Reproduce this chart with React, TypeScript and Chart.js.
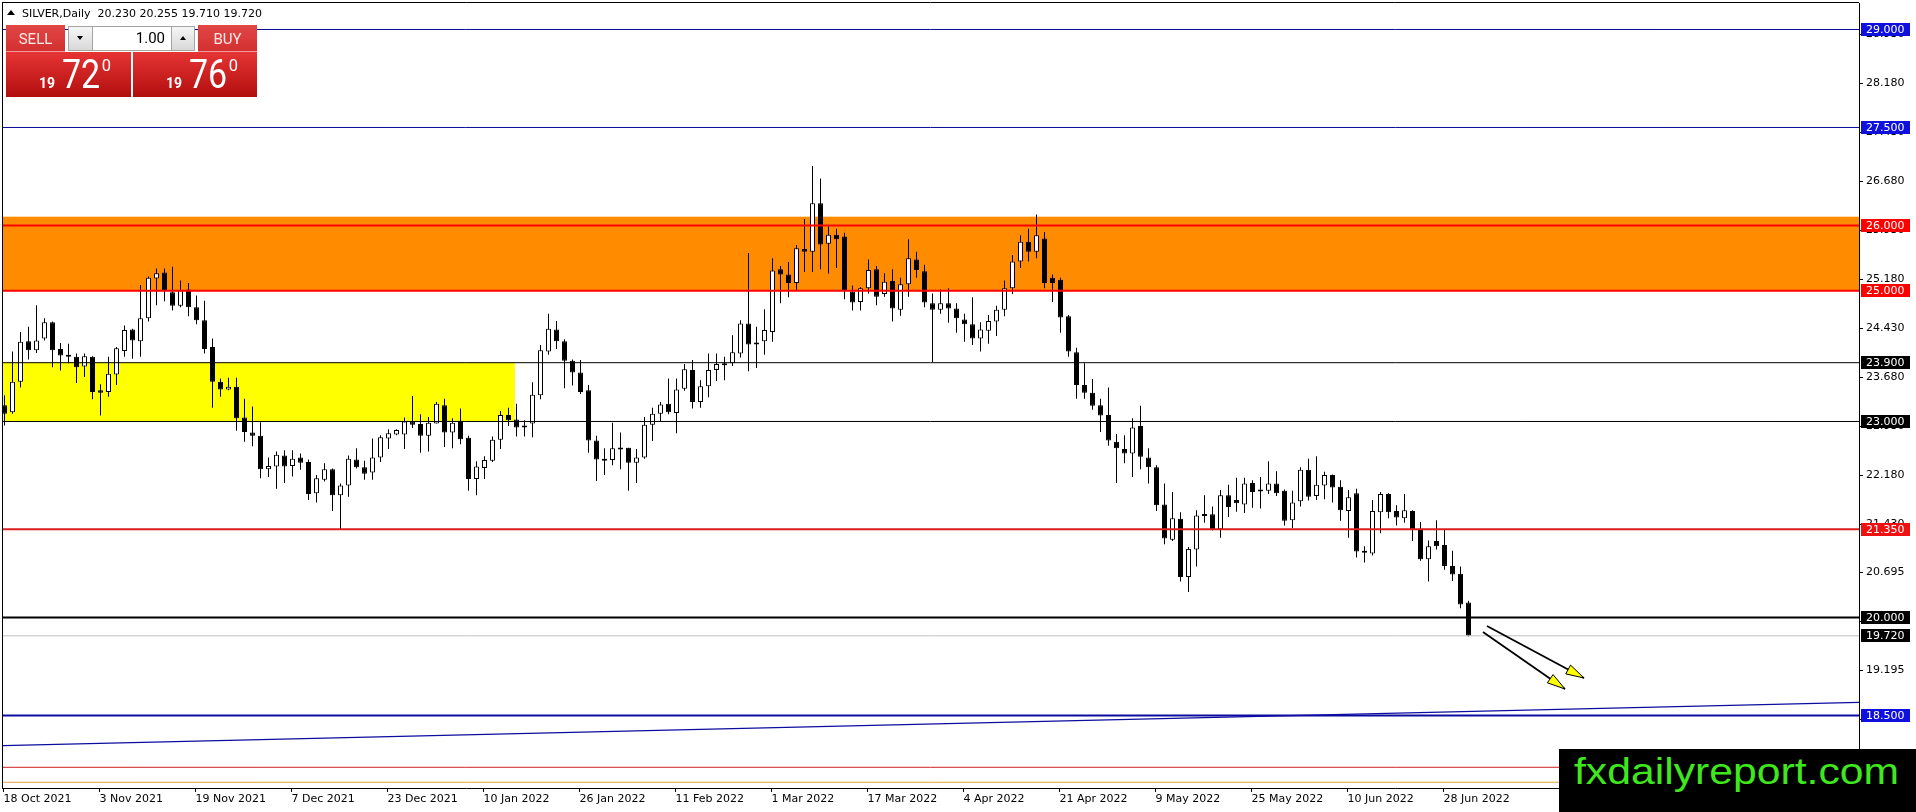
import React, { useEffect, useRef } from "react";
import { Chart, registerables } from "chart.js";

Chart.register(...registerables);

// ---------- data (daily SILVER candles, bar 0 = 18 Oct 2021, bar 183 = 1 Jul 2022) ----------
const OPEN = [
  23.25, 23.14, 23.61, 24.23, 24.09, 24.27, 24.52, 24.11, 24.02, 23.99,
  23.84, 23.99, 23.48, 23.45, 23.72, 24.08, 24.41, 24.23, 24.58, 25.19,
  25.28, 24.98, 24.77, 25.02, 24.75, 24.55, 24.14, 23.61, 23.49, 23.53,
  23.06, 22.83, 22.78, 22.27, 22.31, 22.48, 22.32, 22.45, 22.38, 21.9,
  22.11, 22.27, 21.87, 22.02, 22.42, 22.3, 22.22, 22.45, 22.74, 22.8,
  22.8, 23.0, 22.96, 22.78, 22.97, 23.25, 22.83, 23.01, 22.75, 22.12,
  22.29, 22.4, 22.72, 23.1, 23.03, 22.91, 22.97, 23.4, 24.07, 24.41,
  24.23, 23.93, 23.75, 23.48, 22.71, 22.42, 22.41, 22.59, 22.6, 22.37,
  22.45, 22.95, 23.12, 23.27, 23.13, 23.5, 23.79, 23.3, 23.54, 23.79,
  23.86, 23.89, 24.04, 24.5, 24.18, 24.23, 24.37, 25.33, 25.25, 25.12,
  25.64, 25.6, 26.34, 25.72, 25.86, 25.83, 24.99, 24.83, 25.04, 25.33,
  24.95, 25.15, 24.71, 25.1, 25.48, 25.3, 24.81, 24.71, 24.81, 24.73,
  24.56, 24.49, 24.27, 24.39, 24.53, 24.71, 25.04, 25.45, 25.75, 25.6,
  25.8, 25.2, 25.17, 24.61, 24.06, 23.56, 23.44, 23.25, 23.1, 22.69,
  22.58, 22.51, 22.93, 22.45, 22.3, 21.73, 21.19, 21.51, 20.62, 21.04,
  21.57, 21.58, 21.35, 21.87, 21.8, 21.73, 22.06, 21.95, 21.94, 22.05,
  21.94, 21.49, 21.78, 22.26, 21.86, 22.02, 22.18, 22.0, 21.63, 21.9,
  21.01, 20.98, 21.61, 21.89, 21.63, 21.52, 21.63, 21.36, 20.89, 21.17,
  21.11, 20.79, 20.67, 20.23,
];
const HIGH = [
  23.4, 24.07, 24.37, 24.45, 24.78, 24.58, 24.53, 24.2, 24.19, 24.04,
  24.04, 24.0, 23.57, 23.99, 24.14, 24.47, 24.42, 25.09, 25.22, 25.34,
  25.34, 25.37, 25.16, 25.12, 24.93, 24.85, 24.27, 23.66, 23.67, 23.67,
  23.35, 23.23, 22.99, 22.45, 22.54, 22.56, 22.56, 22.51, 22.42, 22.18,
  22.36, 22.28, 22.05, 22.48, 22.59, 22.4, 22.74, 22.79, 22.88, 22.88,
  23.06, 23.39, 23.11, 23.07, 23.3, 23.35, 23.05, 23.2, 22.78, 22.39,
  22.47, 22.77, 23.16, 23.21, 23.27, 23.02, 23.6, 24.17, 24.65, 24.54,
  24.26, 23.95, 23.94, 23.56, 22.78, 22.59, 22.98, 22.83, 22.6, 22.58,
  23.07, 23.21, 23.3, 23.66, 23.66, 23.88, 23.94, 23.63, 24.04, 24.04,
  23.99, 24.32, 24.55, 25.58, 24.45, 24.72, 25.5, 25.38, 25.44, 25.7,
  26.1, 26.91, 26.72, 25.99, 25.95, 25.89, 25.08, 25.06, 25.48, 25.38,
  25.27, 25.33, 25.2, 25.79, 25.6, 25.4, 24.96, 25.02, 25.04, 24.81,
  24.65, 24.9, 24.52, 24.63, 24.77, 25.16, 25.55, 25.85, 25.95, 26.17,
  25.9, 25.25, 25.2, 24.63, 24.13, 23.89, 23.65, 23.35, 23.52, 22.81,
  22.79, 23.05, 23.24, 22.59, 22.33, 22.05, 21.92, 21.61, 21.08, 21.64,
  21.87, 21.7, 21.95, 22.03, 22.14, 22.14, 22.1, 22.15, 22.39, 22.24,
  21.96, 21.94, 22.3, 22.43, 22.47, 22.23, 22.19, 22.1, 21.95, 21.97,
  21.09, 21.8, 21.92, 21.9, 21.72, 21.89, 21.64, 21.46, 21.18, 21.49,
  21.34, 21.02, 20.78, 20.255,
];
const LOW = [
  22.94, 23.12, 23.52, 23.95, 24.05, 24.24, 23.83, 23.78, 23.89, 23.59,
  23.68, 23.34, 23.09, 23.38, 23.56, 23.99, 23.96, 23.99, 24.53, 24.78,
  24.84, 24.7, 24.75, 24.61, 24.49, 24.04, 23.21, 23.38, 23.48, 22.86,
  22.69, 22.62, 22.13, 22.15, 21.97, 22.06, 22.16, 22.26, 21.8, 21.76,
  22.08, 21.63, 21.35, 21.85, 22.28, 22.11, 22.11, 22.38, 22.58, 22.79,
  22.58, 22.9, 22.52, 22.54, 22.97, 22.61, 22.59, 22.65, 21.94, 21.87,
  22.12, 22.38, 22.58, 22.93, 22.77, 22.77, 22.76, 23.34, 24.02, 24.11,
  23.51, 23.55, 23.42, 22.52, 22.09, 22.18, 22.33, 22.27, 21.94, 22.06,
  22.43, 22.7, 23.0, 23.11, 22.82, 23.47, 23.2, 23.21, 23.37, 23.62,
  23.63, 23.85, 23.98, 23.77, 23.82, 24.02, 24.22, 24.81, 24.9, 25.01,
  25.29, 25.29, 25.33, 25.26, 25.35, 24.87, 24.7, 24.7, 24.96, 24.78,
  24.91, 24.53, 24.62, 24.91, 25.2, 24.75, 23.91, 24.65, 24.51, 24.36,
  24.22, 24.17, 24.07, 24.19, 24.31, 24.61, 24.95, 25.35, 25.45, 25.5,
  25.04, 24.83, 24.36, 23.99, 23.35, 23.35, 23.18, 22.84, 22.63, 22.06,
  22.36, 22.15, 22.27, 22.05, 21.63, 21.12, 21.17, 20.55, 20.39, 20.78,
  21.45, 21.33, 21.22, 21.54, 21.62, 21.6, 21.68, 21.67, 21.89, 21.86,
  21.41, 21.37, 21.7, 21.79, 21.8, 21.81, 21.76, 21.48, 21.22, 20.92,
  20.84, 20.95, 21.29, 21.52, 21.41, 21.45, 21.17, 20.87, 20.55, 21.04,
  20.73, 20.56, 20.14, 19.71,
];
const CLOSE = [
  23.12, 23.61, 24.22, 24.09, 24.24, 24.52, 24.09, 24.01, 23.99, 23.83,
  24.0, 23.45, 23.44, 23.73, 24.12, 24.4, 24.24, 24.58, 25.2, 25.27,
  25.01, 24.77, 25.01, 24.75, 24.55, 24.11, 23.61, 23.49, 23.53, 23.05,
  22.84, 22.78, 22.27, 22.32, 22.49, 22.31, 22.43, 22.37, 21.89, 22.13,
  22.27, 21.87, 22.02, 22.43, 22.3, 22.2, 22.45, 22.76, 22.82, 22.87,
  23.0, 22.95, 22.78, 22.98, 23.27, 22.83, 22.98, 22.73, 22.12, 22.31,
  22.41, 22.72, 23.1, 23.02, 22.91, 22.94, 23.41, 24.09, 24.42, 24.23,
  23.93, 23.75, 23.45, 22.71, 22.42, 22.4, 22.59, 22.57, 22.37, 22.45,
  22.95, 23.12, 23.26, 23.14, 23.49, 23.8, 23.3, 23.54, 23.79, 23.88,
  23.89, 24.06, 24.5, 24.18, 24.21, 24.4, 25.31, 25.25, 25.12, 25.65,
  25.6, 26.34, 25.71, 25.86, 25.79, 25.0, 24.82, 25.04, 25.32, 24.91,
  25.14, 24.73, 25.1, 25.5, 25.32, 24.82, 24.71, 24.81, 24.73, 24.58,
  24.49, 24.27, 24.41, 24.54, 24.71, 25.04, 25.45, 25.75, 25.6, 25.85,
  25.12, 25.12, 24.59, 24.07, 23.56, 23.44, 23.24, 23.09, 22.71, 22.59,
  22.51, 22.91, 22.46, 22.3, 21.72, 21.21, 21.52, 20.62, 21.05, 21.56,
  21.555, 21.35, 21.87, 21.69, 21.75, 22.05, 21.92, 21.93, 22.05, 21.9,
  21.48, 21.76, 22.26, 21.85, 22.03, 22.18, 21.99, 21.64, 21.84, 21.01,
  20.99, 21.63, 21.89, 21.61, 21.53, 21.64, 21.35, 20.89, 21.09, 21.09,
  20.79, 20.66, 20.2, 19.72,
];

const X_TICK_BARS = [0, 12, 24, 36, 48, 60, 72, 84, 96, 108, 120, 132, 144, 156, 168, 180];
const X_TICK_LABELS = [
  "18 Oct 2021", "3 Nov 2021", "19 Nov 2021", "7 Dec 2021", "23 Dec 2021", "10 Jan 2022",
  "26 Jan 2022", "11 Feb 2022", "1 Mar 2022", "17 Mar 2022", "4 Apr 2022", "21 Apr 2022",
  "9 May 2022", "25 May 2022", "10 Jun 2022", "28 Jun 2022",
];
const Y_TICK_VALUES = [28.93, 28.18, 27.43, 26.68, 25.93, 25.18, 24.43, 23.68, 22.93, 22.18, 21.43, 20.695, 19.945, 19.195, 18.445, 17.695];
const Y_TICK_LABELS = Y_TICK_VALUES.map((v) => v.toFixed(3));

// horizontal levels (price)
const LEVEL_PRICES = [29.0, 27.5, 26.0, 25.0, 23.9, 23.0, 21.35, 20.0, 19.72, 18.5, 17.707, 17.478];
// zones [low, high] and their right end (bar index)
const ORANGE_ZONE = [25.0, 26.135];
const YELLOW_ZONE = [23.0, 23.9];
const YELLOW_ZONE_END_BAR = 63.8;
// trend line anchors [bar, price]
const TREND_LINE = [[-0.1875, 18.038], [231.94, 18.702]];
// arrows [[bar, price] start, [bar, price] end]
const ARROWS = [
  [[185.31, 19.87], [197.44, 19.074]],
  [[184.81, 19.778], [195.06, 18.906]],
];
const ASK_PRICE = 19.76;
const SYMBOL = "SILVER,Daily";
const LOT = "1.00";
const WATERMARK = "fxdailyreport.com";

// ---------- view / style ----------
const X_MIN = -0.3125;
const X_MAX = 231.8125;
const Y_MIN = 17.3903;
const Y_MAX = 29.4056;

const LEVEL_STYLES = [
  { color: "#0c0c96", width: 1, box: "#1010dc" },
  { color: "#0c0c96", width: 1, box: "#1010dc" },
  { color: "#ff0000", width: 2, box: "#ff0000" },
  { color: "#ff0000", width: 2, box: "#ff0000" },
  { color: "#000000", width: 1, box: "#000000" },
  { color: "#000000", width: 1, box: "#000000" },
  { color: "#dc1e1e", width: 2, box: "#ee1111" },
  { color: "#000000", width: 2, box: "#000000" },
  { color: "#c0c0c0", width: 1, box: "#000000" },
  { color: "#0c0ca0", width: 2, box: "#1010dc" },
  { color: "#d02020", width: 1, box: null },
  { color: "#e0a040", width: 1, box: null },
];

const AXIS_FONT = { family: "DejaVu Sans", size: 11 };

const decorPlugin = {
  id: "mtDecor",
  beforeDraw(chart: any) {
    const { ctx, width, height } = chart;
    ctx.save();
    ctx.fillStyle = "#ffffff";
    ctx.fillRect(0, 0, width, height);
    ctx.restore();
  },
  beforeDatasetsDraw(chart: any) {
    const { ctx, chartArea: a, scales } = chart;
    const x = scales.x;
    const y = scales.y;
    ctx.save();
    ctx.beginPath();
    ctx.rect(a.left, a.top, a.right - a.left, a.bottom - a.top);
    ctx.clip();
    // orange zone
    let y0 = y.getPixelForValue(ORANGE_ZONE[1]);
    let y1 = y.getPixelForValue(ORANGE_ZONE[0]);
    ctx.fillStyle = "#ff8c00";
    ctx.fillRect(a.left, y0, a.right - a.left, y1 - y0);
    // yellow zone
    y0 = y.getPixelForValue(YELLOW_ZONE[1]);
    y1 = y.getPixelForValue(YELLOW_ZONE[0]);
    const xr = x.getPixelForValue(YELLOW_ZONE_END_BAR);
    ctx.fillStyle = "#ffff00";
    ctx.fillRect(a.left, y0, xr - a.left, y1 - y0);
    ctx.restore();
  },
  afterDatasetsDraw(chart: any) {
    const { ctx, chartArea: a, scales } = chart;
    const x = scales.x;
    const y = scales.y;
    // arrow heads
    ctx.save();
    for (const arr of ARROWS) {
      const p0x = x.getPixelForValue(arr[0][0]);
      const p0y = y.getPixelForValue(arr[0][1]);
      const p1x = x.getPixelForValue(arr[1][0]);
      const p1y = y.getPixelForValue(arr[1][1]);
      const ang = Math.atan2(p1y - p0y, p1x - p0x);
      const L = 18;
      const W = 5;
      const bx = p1x - L * Math.cos(ang);
      const by = p1y - L * Math.sin(ang);
      ctx.beginPath();
      ctx.moveTo(p1x, p1y);
      ctx.lineTo(bx + W * Math.sin(ang), by - W * Math.cos(ang));
      ctx.lineTo(bx - W * Math.sin(ang), by + W * Math.cos(ang));
      ctx.closePath();
      ctx.fillStyle = "#ffff00";
      ctx.fill();
      ctx.strokeStyle = "#000000";
      ctx.lineWidth = 1;
      ctx.stroke();
    }
    // left and top frame
    ctx.strokeStyle = "#000000";
    ctx.lineWidth = 1;
    ctx.beginPath();
    ctx.moveTo(a.left + 0.5, a.top - 0.5);
    ctx.lineTo(a.left + 0.5, a.bottom);
    ctx.moveTo(a.left, a.top - 0.5);
    ctx.lineTo(a.right, a.top - 0.5);
    ctx.stroke();
    ctx.restore();
  },
  afterDraw(chart: any) {
    const { ctx, chartArea: a, scales } = chart;
    const y = scales.y;
    ctx.save();
    ctx.font = '11px "DejaVu Sans"';
    ctx.textBaseline = "middle";
    ctx.textAlign = "left";
    LEVEL_PRICES.forEach((p, i) => {
      const st = LEVEL_STYLES[i];
      if (!st.box) return;
      const py = y.getPixelForValue(p);
      const top = Math.round(py - 6.5);
      ctx.fillStyle = st.box;
      ctx.fillRect(a.right + 2, top, 49, 13);
      ctx.fillStyle = "#ffffff";
      ctx.fillText(p.toFixed(3), a.right + 7, top + 7);
    });
    ctx.restore();
  },
};

export default function App() {
  const ref = useRef<HTMLCanvasElement>(null);

  useEffect(() => {
    const canvas = ref.current;
    if (!canvas) return;
    const idx = OPEN.map((_, i) => i);
    const wickData = idx.map((i) => ({ x: i, y: [LOW[i], HIGH[i]] }));
    const bodyData = idx.map((i) => ({ x: i, y: [OPEN[i], CLOSE[i]] }));
    const bodyColors = idx.map((i) => (CLOSE[i] >= OPEN[i] ? "#ffffff" : "#000000"));

    const levelSets = LEVEL_PRICES.map((p, i) => ({
      type: "line",
      data: [
        { x: X_MIN - 5, y: p },
        { x: X_MAX + 5, y: p },
      ],
      borderColor: LEVEL_STYLES[i].color,
      borderWidth: LEVEL_STYLES[i].width,
      pointRadius: 0,
      fill: false,
      tension: 0,
      clip: 0,
      order: 1,
    }));
    const trendSet = {
      type: "line",
      data: TREND_LINE.map((p) => ({ x: p[0], y: p[1] })),
      borderColor: "#0c0ca0",
      borderWidth: 1.2,
      pointRadius: 0,
      fill: false,
      clip: 0,
      order: 1,
    };
    const arrowSets = ARROWS.map((arr) => ({
      type: "line",
      data: arr.map((p) => ({ x: p[0], y: p[1] })),
      borderColor: "#000000",
      borderWidth: 1.8,
      pointRadius: 0,
      fill: false,
      clip: false,
      order: 0,
    }));

    const chart = new Chart(canvas, {
      type: "bar",
      data: {
        datasets: [
          {
            type: "bar",
            data: wickData,
            backgroundColor: "#000000",
            borderWidth: 0,
            barThickness: 1,
            maxBarThickness: 1,
            grouped: false,
            inflateAmount: 0,
            order: 3,
          },
          {
            type: "bar",
            data: bodyData,
            backgroundColor: bodyColors,
            borderColor: "#000000",
            borderWidth: 1,
            borderSkipped: false,
            barThickness: 5,
            maxBarThickness: 5,
            minBarLength: 2,
            grouped: false,
            inflateAmount: 0,
            order: 2,
          },
          ...levelSets,
          trendSet,
          ...arrowSets,
        ] as any,
      },
      options: {
        responsive: false,
        maintainAspectRatio: false,
        animation: false,
        events: [],
        layout: { padding: { left: 2, top: 3, right: 0, bottom: 0 } },
        plugins: { legend: { display: false }, tooltip: { enabled: false } },
        scales: {
          x: {
            type: "linear",
            position: "bottom",
            min: X_MIN,
            max: X_MAX,
            offset: false,
            bounds: "data",
            afterBuildTicks: (s: any) => {
              s.ticks = X_TICK_BARS.map((b) => ({ value: b - 0.125 }));
            },
            afterFit: (s: any) => {
              s.height = 24;
              s.paddingLeft = 0;
              s.paddingRight = 0;
            },
            ticks: {
              autoSkip: false,
              maxRotation: 0,
              minRotation: 0,
              align: "start",
              padding: 1,
              color: "#000000",
              font: AXIS_FONT,
              callback: (_v: any, i: number) => X_TICK_LABELS[i],
            },
            grid: { drawOnChartArea: false, drawTicks: true, tickLength: 4, color: "#000000", offset: false },
            border: { display: true, color: "#000000", width: 1 },
          },
          y: {
            type: "linear",
            position: "right",
            min: Y_MIN,
            max: Y_MAX,
            beginAtZero: false,
            bounds: "data",
            afterBuildTicks: (s: any) => {
              s.ticks = Y_TICK_VALUES.map((v) => ({ value: v }));
            },
            afterFit: (s: any) => {
              s.width = 57;
              s.paddingTop = 0;
              s.paddingBottom = 0;
            },
            ticks: {
              autoSkip: false,
              padding: 3,
              color: "#000000",
              font: AXIS_FONT,
              callback: (_v: any, i: number) => Y_TICK_LABELS[i],
            },
            grid: { drawOnChartArea: false, drawTicks: true, tickLength: 4, color: "#000000" },
            border: { display: true, color: "#000000", width: 1 },
          },
        },
      } as any,
      plugins: [decorPlugin],
    });
    return () => chart.destroy();
  }, []);

  const last = OPEN.length - 1;
  const header = `${SYMBOL}  ${OPEN[last].toFixed(3)} ${HIGH[last].toFixed(3)} ${LOW[last].toFixed(3)} ${CLOSE[last].toFixed(3)}`;
  const bid = CLOSE[last].toFixed(3);
  const ask = ASK_PRICE.toFixed(3);

  const abs: React.CSSProperties = { position: "absolute", margin: 0, padding: 0, whiteSpace: "nowrap" };
  const priceGrad = "linear-gradient(#e63434, #b20e0e)";
  const labelGrad = "linear-gradient(#e24646, #d23030)";
  const btnGrad = "linear-gradient(#f6f6f6, #d8d8d8)";
  const roboto = "Roboto, 'Liberation Sans', sans-serif";

  const priceParts = (p: string, left: number) => {
    const big = p.slice(3, 5);
    const small = p.slice(0, 2);
    const sup = p.slice(5, 6);
    return (
      <>
        <div style={{ ...abs, left, top: 75.5, font: `bold 14px ${roboto}`, lineHeight: "14px", color: "#fff" }}>{small}</div>
        <div style={{ ...abs, left: left + 23, top: 54.6, font: `40px ${roboto}`, lineHeight: "40px", color: "#fff", transform: "scaleX(0.85)", transformOrigin: "0 0" }}>{big}</div>
        <div style={{ ...abs, left: left + 62.7, top: 57.8, font: `16.5px ${roboto}`, lineHeight: "16.5px", color: "#fff" }}>{sup}</div>
      </>
    );
  };

  return (
    <div style={{ position: "absolute", left: 0, top: 0, width: 1916, height: 812, overflow: "hidden", background: "#ffffff" }}>
      <canvas ref={ref} width={1916} height={812} style={{ position: "absolute", left: 0, top: 0 }} />

      {/* header */}
      <div style={{ ...abs, left: 7, top: 10, width: 0, height: 0, borderLeft: "4px solid transparent", borderRight: "4px solid transparent", borderBottom: "5px solid #000" }} />
      <div style={{ ...abs, left: 22, top: 8, font: '11px "DejaVu Sans"', lineHeight: "11px", color: "#000", whiteSpace: "pre" }}>{header}</div>

      {/* trade panel */}
      <div style={{ ...abs, left: 6, top: 25, width: 59, height: 26, background: labelGrad, borderBottom: "1px solid #f09a9a" }} />
      <div style={{ ...abs, left: 6, top: 31.7, width: 59, textAlign: "center", font: `15px ${roboto}`, lineHeight: "15px", color: "#ffe8e8" }}>SELL</div>

      <div style={{ ...abs, left: 68, top: 26, width: 25, height: 25, boxSizing: "border-box", border: "1px solid #a4a4a4", background: btnGrad }} />
      <div style={{ ...abs, left: 77, top: 36, width: 0, height: 0, borderLeft: "3.5px solid transparent", borderRight: "3.5px solid transparent", borderTop: "4px solid #000" }} />
      <div style={{ ...abs, left: 92, top: 26, width: 80, height: 25, boxSizing: "border-box", border: "1px solid #a4a4a4", background: "#fff" }} />
      <div style={{ ...abs, left: 93, top: 30.7, width: 72, textAlign: "right", font: `15px ${roboto}`, lineHeight: "15px", color: "#000" }}>{LOT}</div>
      <div style={{ ...abs, left: 171, top: 26, width: 24, height: 25, boxSizing: "border-box", border: "1px solid #a4a4a4", background: btnGrad }} />
      <div style={{ ...abs, left: 179.5, top: 36, width: 0, height: 0, borderLeft: "3.5px solid transparent", borderRight: "3.5px solid transparent", borderBottom: "4px solid #000" }} />

      <div style={{ ...abs, left: 198, top: 25, width: 59, height: 26, background: labelGrad, borderBottom: "1px solid #f09a9a" }} />
      <div style={{ ...abs, left: 198, top: 31.7, width: 59, textAlign: "center", font: `15px ${roboto}`, lineHeight: "15px", color: "#ffe8e8" }}>BUY</div>

      <div style={{ ...abs, left: 6, top: 52, width: 125, height: 45, background: priceGrad }} />
      <div style={{ ...abs, left: 133, top: 52, width: 124, height: 45, background: priceGrad }} />
      {priceParts(bid, 39)}
      {priceParts(ask, 166)}

      {/* watermark */}
      <div style={{ ...abs, left: 1559, top: 749, width: 357, height: 63, background: "#000" }} />
      <div style={{ ...abs, left: 1574, top: 753.8, font: '36px "Liberation Sans", Arial, sans-serif', lineHeight: "36px", color: "#3fe81e", transform: "scaleX(1.186)", transformOrigin: "0 0" }}>{WATERMARK}</div>
    </div>
  );
}
